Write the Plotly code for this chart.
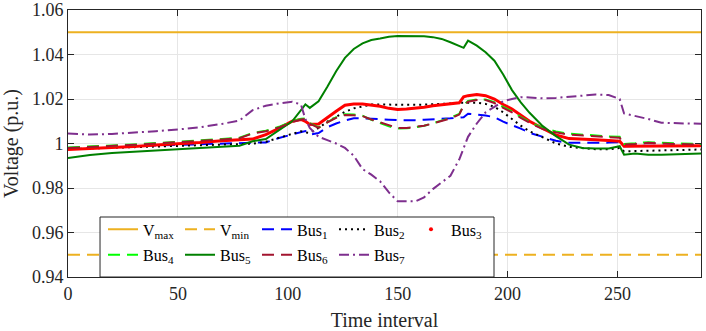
import plotly.graph_objects as go

# time intervals sampled from the reference curves
time = [0, 10, 20, 30, 40, 50, 60, 70, 78, 84, 90, 96, 102, 106, 108, 110, 114, 118, 122, 126,
        130, 134, 138, 142, 146, 150, 154, 158, 162, 166, 170, 174, 178, 180, 182, 186, 190, 194,
        198, 202, 206, 210, 216, 222, 228, 234, 240, 246, 251, 253, 258, 264, 270, 276, 282, 288]

bus1 = [0.9980, 0.9982, 0.9985, 0.9988, 0.9991, 0.9994, 0.9997, 1.0000, 1.0003, 1.0003, 1.0005,
        1.0025, 1.0042, 1.0052, 1.0056, 1.0040, 1.0047, 1.0073, 1.0090, 1.0103, 1.0113, 1.0113,
        1.0112, 1.0110, 1.0107, 1.0105, 1.0104, 1.0105, 1.0107, 1.0108, 1.0110, 1.0113, 1.0116,
        1.0118, 1.0134, 1.0131, 1.0126, 1.0118, 1.0098, 1.0082, 1.0067, 1.0048, 1.0030, 1.0012,
        1.0003, 1.0002, 1.0003, 1.0004, 1.0006, 0.9988, 0.9990, 0.9990, 0.9990, 0.9990, 0.9991,
        0.9991]
bus2 = [0.9975, 0.9978, 0.9982, 0.9985, 0.9988, 0.9991, 0.9994, 0.9997, 0.9999, 0.9999, 1.0008,
        1.0026, 1.0045, 1.0055, 1.0050, 1.0048, 1.0070, 1.0098, 1.0120, 1.0142, 1.0158, 1.0168,
        1.0175, 1.0175, 1.0174, 1.0173, 1.0173, 1.0174, 1.0175, 1.0176, 1.0178, 1.0180, 1.0183,
        1.0183, 1.0184, 1.0183, 1.0178, 1.0165, 1.0140, 1.0108, 1.0080, 1.0055, 1.0026, 1.0000,
        0.9985, 0.9978, 0.9974, 0.9974, 0.9980, 0.9965, 0.9966, 0.9966, 0.9968, 0.9970, 0.9972,
        0.9973]
bus3 = [0.9973, 0.9977, 0.9982, 0.9987, 0.9993, 0.9998, 1.0004, 1.0012, 1.0018, 1.0020, 1.0040,
        1.0068, 1.0100, 1.0108, 1.0100, 1.0086, 1.0088, 1.0118, 1.0145, 1.0172, 1.0177, 1.0177,
        1.0173, 1.0167, 1.0158, 1.0153, 1.0155, 1.0158, 1.0163, 1.0170, 1.0175, 1.0178, 1.0183,
        1.0210, 1.0215, 1.0220, 1.0215, 1.0200, 1.0175, 1.0155, 1.0128, 1.0100, 1.0068, 1.0038,
        1.0022, 1.0018, 1.0017, 1.0014, 1.0010, 0.9988, 0.9988, 0.9989, 0.9989, 0.9990, 0.9990,
        0.9990]
bus4 = [0.9982, 0.9986, 0.9991, 0.9996, 1.0002, 1.0007, 1.0013, 1.0020, 1.0026, 1.0047, 1.0057,
        1.0075, 1.0100, 1.0111, 1.0112, 1.0092, 1.0072, 1.0097, 1.0118, 1.0131, 1.0130, 1.0125,
        1.0106, 1.0092, 1.0077, 1.0067, 1.0068, 1.0073, 1.0080, 1.0091, 1.0102, 1.0116, 1.0133,
        1.0173, 1.0191, 1.0198, 1.0198, 1.0186, 1.0164, 1.0144, 1.0119, 1.0097, 1.0069, 1.0054,
        1.0044, 1.0039, 1.0036, 1.0032, 1.0030, 0.9998, 1.0001, 1.0006, 1.0003, 1.0001, 1.0000,
        0.9998]
bus5 = [0.9935, 0.9948, 0.9957, 0.9962, 0.9968, 0.9975, 0.9980, 0.9985, 0.9990, 1.0010, 1.0020,
        1.0060, 1.0100, 1.0150, 1.0176, 1.0160, 1.0190, 1.0255, 1.0325, 1.0385, 1.0425, 1.0450,
        1.0465, 1.0472, 1.0480, 1.0483, 1.0483, 1.0483, 1.0482, 1.0478, 1.0470, 1.0455, 1.0438,
        1.0430, 1.0462, 1.0440, 1.0410, 1.0372, 1.0310, 1.0240, 1.0185, 1.0138, 1.0078, 1.0033,
        0.9995, 0.9980, 0.9977, 0.9978, 0.9988, 0.9950, 0.9955, 0.9950, 0.9950, 0.9952, 0.9953,
        0.9955]
bus6 = [0.9980, 0.9984, 0.9989, 0.9994, 1.0000, 1.0005, 1.0011, 1.0018, 1.0024, 1.0045, 1.0055,
        1.0072, 1.0097, 1.0108, 1.0110, 1.0090, 1.0070, 1.0095, 1.0115, 1.0128, 1.0127, 1.0123,
        1.0108, 1.0095, 1.0080, 1.0070, 1.0070, 1.0075, 1.0080, 1.0090, 1.0100, 1.0113, 1.0130,
        1.0170, 1.0188, 1.0195, 1.0195, 1.0182, 1.0160, 1.0140, 1.0115, 1.0093, 1.0065, 1.0050,
        1.0040, 1.0035, 1.0032, 1.0028, 1.0026, 0.9995, 0.9998, 1.0003, 1.0000, 0.9998, 0.9997,
        0.9995]
bus7 = [1.0045, 1.0040, 1.0043, 1.0048, 1.0055, 1.0063, 1.0073, 1.0088, 1.0103, 1.0150, 1.0170,
        1.0180, 1.0188, 1.0175, 1.0110, 1.0070, 1.0030, 1.0015, 1.0000, 0.9980, 0.9945, 0.9885,
        0.9860, 0.9830, 0.9780, 0.9740, 0.9740, 0.9740, 0.9758, 0.9795, 0.9825, 0.9855, 0.9928,
        0.9980, 1.0030, 1.0090, 1.0140, 1.0165, 1.0190, 1.0200, 1.0208, 1.0207, 1.0203, 1.0205,
        1.0210, 1.0213, 1.0220, 1.0218, 1.0200, 1.0135, 1.0125, 1.0110, 1.0093, 1.0090, 1.0090,
        1.0089]

v_max = 1.05
v_min = 0.95

y_ticks = [0.94, 0.96, 0.98, 1.0, 1.02, 1.04, 1.06]
y_labels = ["0.94", "0.96", "0.98", "1", "1.02", "1.04", "1.06"]
x_ticks = [0, 50, 100, 150, 200, 250]

FONT = "Liberation Serif, Times New Roman, serif"
ORANGE = "#EDB120"

fig = go.Figure()

def add_line(y, name, color, dash="solid", width=2, legend="legend", showlegend=True):
    fig.add_trace(go.Scatter(
        x=time, y=y, name=name, mode="lines",
        line=dict(color=color, dash=dash, width=width),
        legend=legend, showlegend=showlegend,
    ))

# row 1 of the legend
add_line([v_max] * len(time), "V<sub>max</sub>", ORANGE, width=2)
add_line([v_min] * len(time), "V<sub>min</sub>", ORANGE, dash="12px,7px", width=2)
add_line(bus1, "Bus<sub>1</sub>", "#0000FF", dash="12px,7px")
add_line(bus2, "Bus<sub>2</sub>", "#000000", dash="2px,4px")
add_line(bus3, "Bus<sub>3</sub>", "#FF0000", width=3, showlegend=False)
fig.add_trace(go.Scatter(
    x=[None], y=[None], name="Bus<sub>3</sub>", mode="markers",
    marker=dict(color="#FF0000", size=4), legend="legend",
))
# row 2 of the legend
add_line(bus4, "Bus<sub>4</sub>", "#00FF00", dash="12px,7px", legend="legend2")
add_line(bus5, "Bus<sub>5</sub>", "#008000", legend="legend2")
add_line(bus6, "Bus<sub>6</sub>", "#A2142F", dash="12px,7px", legend="legend2")
add_line(bus7, "Bus<sub>7</sub>", "#7E2F8E", dash="10px,4px,2px,4px", legend="legend2")

axis_common = dict(
    showline=True, linecolor="#262626", linewidth=1, mirror="allticks",
    ticks="inside", ticklen=6, tickcolor="#262626", automargin=False,
    showgrid=True, gridcolor="#E6E6E6", gridwidth=1, zeroline=False,
    tickfont=dict(family=FONT, size=18, color="#262626"),
)

leg_common = dict(
    orientation="h", font=dict(family=FONT, size=16, color="#000000"),
    bgcolor="rgba(0,0,0,0)", borderwidth=0, itemwidth=30,
    entrywidth=32, entrywidthmode="pixels", xanchor="left", yanchor="top",
    tracegroupgap=0,
)

fig.update_layout(
    width=706, height=331,
    margin=dict(l=68, r=5, t=10, b=54),
    plot_bgcolor="white", paper_bgcolor="white",
    font=dict(family=FONT, color="#262626"),
    xaxis=dict(range=[0, 288], tickvals=x_ticks,
               title=dict(text="Time interval", font=dict(family=FONT, size=20, color="#262626")),
               **axis_common),
    yaxis=dict(range=[0.94, 1.06], tickvals=y_ticks, ticktext=y_labels,
               title=dict(text="Voltage (p.u.)", font=dict(family=FONT, size=20, color="#262626")),
               **axis_common),
    legend=dict(x=0.0553, y=0.242, **leg_common),
    legend2=dict(x=0.0553, y=0.147, **leg_common),
    showlegend=True,
    shapes=[dict(type="rect", xref="paper", yref="paper", x0=0.0506, x1=0.673, y0=0, y1=0.2247,
                 line=dict(color="#262626", width=1), fillcolor="white", layer="above")],
)

fig.write_html(
    "out.html",
    config={"displayModeBar": False},
    post_script="document.body.style.margin='0';document.body.style.overflow='hidden';",
)
